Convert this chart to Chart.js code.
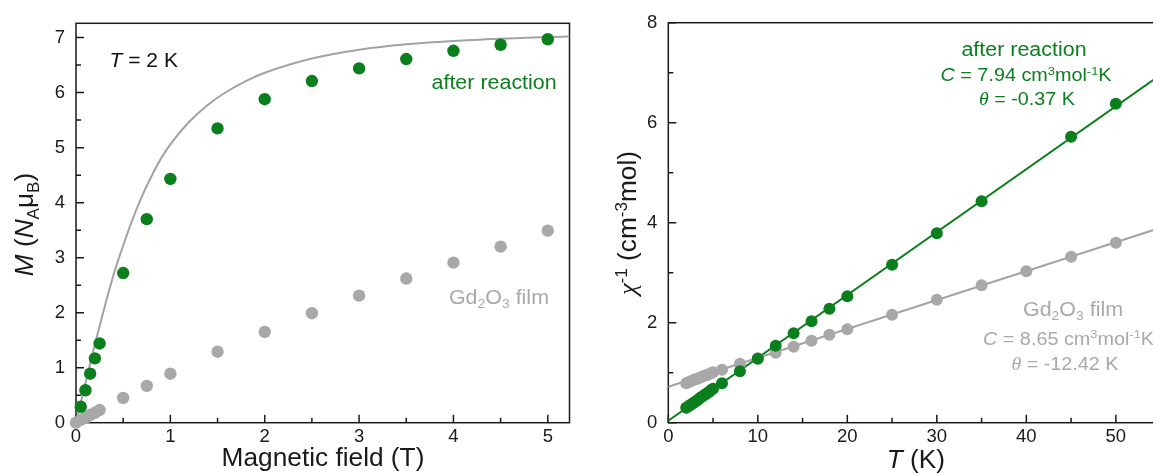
<!DOCTYPE html>
<html>
<head>
<meta charset="utf-8">
<script src="https://cdn.jsdelivr.net/npm/chart.js@4.4.1/dist/chart.umd.min.js"></script>
<style>
  html, body { margin: 0; padding: 0; background: #ffffff; }
  body { width: 1153px; height: 475px; overflow: hidden; position: relative; }
  #wrapL { position: absolute; left: 0; top: 0; width: 590px; height: 475px; }
  #wrapR { position: absolute; left: 580px; top: 0; width: 600px; height: 475px; }
</style>
</head>
<body>
<div id="wrapL"><canvas id="left" width="590" height="475"></canvas></div>
<div id="wrapR"><canvas id="right" width="600" height="475"></canvas></div>
<script>
// ---------------- DATA ----------------
// Left panel: M vs magnetic field at T = 2 K
const fieldGreen = [0.05, 0.1, 0.15, 0.2, 0.25, 0.5, 0.75, 1, 1.5, 2, 2.5, 3, 3.5, 4, 4.5, 5];
const mGreen     = [0.29, 0.59, 0.89, 1.17, 1.44, 2.72, 3.70, 4.43, 5.35, 5.88, 6.21, 6.44, 6.61, 6.76, 6.87, 6.97];
const fieldGray  = [0, 0.05, 0.1, 0.15, 0.2, 0.25, 0.5, 0.75, 1, 1.5, 2, 2.5, 3, 3.5, 4, 4.5, 5];
const mGray      = [0, 0.05, 0.09, 0.14, 0.18, 0.23, 0.45, 0.67, 0.89, 1.29, 1.65, 1.99, 2.31, 2.62, 2.91, 3.20, 3.49];
const curveField = [0, 0.1, 0.2, 0.3, 0.4, 0.5, 0.6, 0.7, 0.8, 0.9, 1.0, 1.2, 1.4, 1.6, 1.8, 2.0, 2.5, 3.0, 3.5, 4.0, 4.5, 5.0, 5.23];
const curveM     = [0, 0.72, 1.42, 2.08, 2.70, 3.22, 3.70, 4.12, 4.48, 4.80, 5.06, 5.47, 5.78, 6.02, 6.21, 6.36, 6.62, 6.78, 6.88, 6.94, 6.98, 7.01, 7.02];

// Right panel: inverse susceptibility vs T
const tGreen   = [2, 2.25, 2.5, 2.75, 3, 3.25, 3.5, 3.75, 4, 4.25, 4.5, 4.75, 5, 6, 8, 10, 12, 14, 16, 18, 20, 25, 30, 35, 45, 50];
const chiGreen = [0.30, 0.33, 0.36, 0.39, 0.42, 0.45, 0.49, 0.52, 0.55, 0.58, 0.61, 0.65, 0.68, 0.79, 1.03, 1.28, 1.54, 1.79, 2.03, 2.28, 2.53, 3.16, 3.79, 4.43, 5.72, 6.38];
const tGray    = [2, 2.25, 2.5, 2.75, 3, 3.25, 3.5, 3.75, 4, 4.25, 4.5, 4.75, 5, 6, 8, 10, 12, 14, 16, 18, 20, 25, 30, 35, 40, 45, 50];
const chiGray  = [0.79, 0.81, 0.83, 0.85, 0.87, 0.88, 0.90, 0.92, 0.94, 0.95, 0.97, 0.99, 1.01, 1.06, 1.18, 1.29, 1.40, 1.52, 1.64, 1.76, 1.87, 2.16, 2.46, 2.75, 3.03, 3.32, 3.60];
const fitT        = [0, 55];
const fitGreenChi = [0.04, 6.96];
const fitGrayChi  = [0.72, 3.90];

// Tick values
const leftXTicks  = [0, 1, 2, 3, 4, 5];
const leftXMinor  = [0.5, 1.5, 2.5, 3.5, 4.5];
const leftYTicks  = [0, 1, 2, 3, 4, 5, 6, 7];
const leftYMinor  = [0.5, 1.5, 2.5, 3.5, 4.5, 5.5, 6.5];
const rightXTicks = [0, 10, 20, 30, 40, 50];
const rightXMinor = [5, 15, 25, 35, 45];
const rightYTicks = [0, 2, 4, 6, 8];
const rightYMinor = [1, 3, 5, 7];

// ---------------- STYLE ----------------
const GREEN = '#0b7f1d';
const GRAY_PT = '#a8a8a8';
const GRAY_LN = '#a3a3a3';
const GRAY_TX = '#a9a9a9';
const INK = '#1a1a1a';
const SANS = '"Liberation Sans", Arial, Helvetica, sans-serif';
const SERIF = '"Liberation Serif", "Times New Roman", serif';

const pts = (xs, ys) => xs.map((x, i) => ({ x: x, y: ys[i] }));

function drawRich(ctx, parts, x, y, o) {
  const size = o.size, sx = o.sx || 1;
  ctx.save();
  ctx.translate(x, y);
  if (o.rotate) ctx.rotate(-Math.PI / 2);
  ctx.scale(sx, 1);
  let w = 0;
  const items = parts.map(p => {
    const fs = p.s ? size * 0.65 : size;
    const font = (p.i ? 'italic ' : '') + fs + 'px ' + (p.serif ? SERIF : SANS);
    ctx.font = font;
    const m = ctx.measureText(p.t).width;
    const dy = p.s === 'sub' ? size * 0.22 : (p.s === 'sup' ? -size * 0.37 : 0);
    w += m;
    return { t: p.t, font, m, dy };
  });
  let cx = o.align === 'center' ? -w / 2 : (o.align === 'right' ? -w : 0);
  ctx.fillStyle = o.color;
  ctx.textBaseline = 'alphabetic';
  ctx.textAlign = 'left';
  items.forEach(it => { ctx.font = it.font; ctx.fillText(it.t, cx, it.dy); cx += it.m; });
  ctx.restore();
}

const framePlugin = {
  id: 'frameTicks',
  beforeDatasetsDraw(chart, args, opts) {
    const { ctx, chartArea: a } = chart;
    const xs = chart.scales.x, ys = chart.scales.y;
    ctx.save();
    ctx.strokeStyle = INK;
    ctx.lineWidth = 1.5;
    ctx.strokeRect(a.left, a.top, a.right - a.left, a.bottom - a.top);
    ctx.beginPath();
    const tk = (vals, len, horiz) => vals.forEach(v => {
      if (horiz) { const p = xs.getPixelForValue(v); ctx.moveTo(p, a.bottom); ctx.lineTo(p, a.bottom - len); }
      else { const p = ys.getPixelForValue(v); ctx.moveTo(a.left, p); ctx.lineTo(a.left + len, p); }
    });
    tk(opts.xMajor, 8, true); tk(opts.xMinor, 5, true);
    tk(opts.yMajor, 8, false); tk(opts.yMinor, 5, false);
    ctx.stroke();
    ctx.restore();
  },
  afterDraw(chart, args, opts) {
    const ctx = chart.ctx;
    (opts.texts || []).forEach(t => drawRich(ctx, t.parts, t.x, t.y, t));
  }
};

const tickFont = { family: SANS, size: 18.5 };

function makeScales(cfg) {
  return {
    x: {
      type: 'linear', min: cfg.xmin, max: cfg.xmax,
      grid: { display: false, drawTicks: false }, border: { display: false },
      ticks: { font: tickFont, color: INK, padding: 3, maxRotation: 0, autoSkip: false },
      afterBuildTicks: s => { s.ticks = cfg.xTicks.map(v => ({ value: v })); },
      afterFit: s => { s.height = cfg.xh; }
    },
    y: {
      type: 'linear', min: cfg.ymin, max: cfg.ymax,
      grid: { display: false, drawTicks: false }, border: { display: false },
      ticks: { font: tickFont, color: INK, padding: 11, autoSkip: false },
      afterBuildTicks: s => { s.ticks = cfg.yTicks.map(v => ({ value: v })); },
      afterFit: s => { s.width = cfg.yw; }
    }
  };
}

// ---------------- LEFT CHART ----------------
new Chart(document.getElementById('left'), {
  type: 'scatter',
  data: {
    datasets: [
      { data: pts(fieldGreen, mGreen), backgroundColor: GREEN, borderWidth: 0, pointRadius: 6.2, pointHoverRadius: 6.2, clip: false },
      { data: pts(fieldGray, mGray), backgroundColor: GRAY_PT, borderWidth: 0, pointRadius: 6.2, pointHoverRadius: 6.2, clip: false },
      { data: pts(curveField, curveM), showLine: true, borderColor: GRAY_LN, borderWidth: 2, pointRadius: 0, cubicInterpolationMode: 'monotone', fill: false }
    ]
  },
  options: {
    responsive: false, animation: false, events: [],
    layout: { padding: { left: 0, top: 23.3, right: 20.5, bottom: 0 } },
    scales: makeScales({ xmin: 0, xmax: 5.23, ymin: 0, ymax: 7.26, xTicks: leftXTicks, yTicks: leftYTicks, xh: 52.3, yw: 76 }),
    plugins: {
      legend: { display: false }, tooltip: { enabled: false },
      frameTicks: {
        xMajor: leftXTicks, xMinor: leftXMinor, yMajor: leftYTicks, yMinor: leftYMinor,
        texts: [
          { parts: [{ t: 'T', i: 1 }, { t: ' = 2 K' }], x: 109.5, y: 66.7, align: 'left', size: 19.5, sx: 1.08, color: '#111111' },
          { parts: [{ t: 'after reaction' }], x: 556.7, y: 89, align: 'right', size: 19.5, sx: 1.1, color: GREEN },
          { parts: [{ t: 'Gd' }, { t: '2', s: 'sub' }, { t: 'O' }, { t: '3', s: 'sub' }, { t: ' film' }], x: 549, y: 304, align: 'right', size: 19.5, sx: 1.1, color: GRAY_TX },
          { parts: [{ t: 'Magnetic field (T)' }], x: 323, y: 466, align: 'center', size: 25, sx: 1.05, color: INK },
          { parts: [{ t: 'M', i: 1 }, { t: ' (' }, { t: 'N', i: 1 }, { t: 'A', s: 'sub' }, { t: 'μ' }, { t: 'B', s: 'sub' }, { t: ')' }], x: 33, y: 224.5, align: 'center', size: 25, sx: 1.05, rotate: true, color: INK }
        ]
      }
    }
  },
  plugins: [framePlugin]
});

// ---------------- RIGHT CHART ----------------
new Chart(document.getElementById('right'), {
  type: 'scatter',
  data: {
    datasets: [
      { data: pts(tGreen, chiGreen), backgroundColor: GREEN, borderWidth: 0, pointRadius: 6, pointHoverRadius: 6, clip: false },
      { data: pts(tGray, chiGray), backgroundColor: GRAY_PT, borderWidth: 0, pointRadius: 6, pointHoverRadius: 6, clip: false },
      { data: pts(fitT, fitGreenChi), showLine: true, borderColor: GREEN, borderWidth: 2, pointRadius: 0, fill: false },
      { data: pts(fitT, fitGrayChi), showLine: true, borderColor: GRAY_LN, borderWidth: 2, pointRadius: 0, fill: false }
    ]
  },
  options: {
    responsive: false, animation: false, events: [],
    layout: { padding: { left: 0, top: 22.7, right: 19.4, bottom: 0 } },
    scales: makeScales({ xmin: 0, xmax: 55, ymin: 0, ymax: 8, xTicks: rightXTicks, yTicks: rightYTicks, xh: 52.3, yw: 88.3 }),
    plugins: {
      legend: { display: false }, tooltip: { enabled: false },
      frameTicks: {
        xMajor: rightXTicks, xMinor: rightXMinor, yMajor: rightYTicks, yMinor: rightYMinor,
        texts: [
          { parts: [{ t: 'after reaction' }], x: 444, y: 55.5, align: 'center', size: 19.5, sx: 1.1, color: GREEN },
          { parts: [{ t: 'C', i: 1 }, { t: ' = 7.94 cm' }, { t: '3', s: 'sup' }, { t: 'mol' }, { t: '-1', s: 'sup' }, { t: 'K' }], x: 446, y: 81.3, align: 'center', size: 18, sx: 1.1, color: GREEN },
          { parts: [{ t: 'θ', i: 1, serif: 1 }, { t: ' = -0.37 K' }], x: 447, y: 104.7, align: 'center', size: 18, sx: 1.1, color: GREEN },
          { parts: [{ t: 'Gd' }, { t: '2', s: 'sub' }, { t: 'O' }, { t: '3', s: 'sub' }, { t: ' film' }], x: 493, y: 316, align: 'center', size: 19.5, sx: 1.1, color: GRAY_TX },
          { parts: [{ t: 'C', i: 1 }, { t: ' = 8.65 cm' }, { t: '3', s: 'sup' }, { t: 'mol' }, { t: '-1', s: 'sup' }, { t: 'K' }], x: 403, y: 345, align: 'left', size: 18, sx: 1.1, color: GRAY_TX },
          { parts: [{ t: 'θ', i: 1, serif: 1 }, { t: ' = -12.42 K' }], x: 485, y: 370, align: 'center', size: 18, sx: 1.1, color: GRAY_TX },
          { parts: [{ t: 'T', i: 1 }, { t: ' (K)' }], x: 335.8, y: 468, align: 'center', size: 25, sx: 1.05, color: INK },
          { parts: [{ t: 'χ', i: 1, serif: 1 }, { t: '-1', s: 'sup' }, { t: ' (cm' }, { t: '-3', s: 'sup' }, { t: 'mol)' }], x: 56, y: 223, align: 'center', size: 25, sx: 1.05, rotate: true, color: INK }
        ]
      }
    }
  },
  plugins: [framePlugin]
});
</script>
</body>
</html>
